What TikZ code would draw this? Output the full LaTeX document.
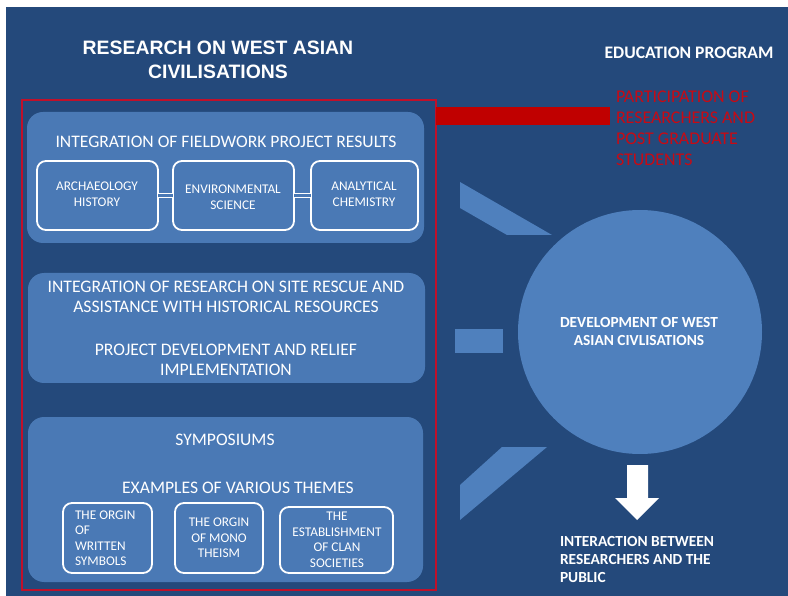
\documentclass[tikz,border=0pt]{standalone}
\usepackage{fontspec}
\setmainfont{Carlito}
\newfontfamily\titlefont{Liberation Sans}
\definecolor{bgblue}{HTML}{24497B}
\definecolor{boxblue}{HTML}{4A79B5}
\definecolor{circblue}{HTML}{4F80BD}
\definecolor{redline}{HTML}{C0102A}
\definecolor{redtext}{HTML}{C80A14}
\definecolor{redbar}{HTML}{C00000}
\begin{document}
\begin{tikzpicture}[x=1pt,y=-1pt,
  every node/.style={inner sep=0pt, outer sep=0pt},
  bigbox/.style={fill=boxblue, rounded corners=16pt, anchor=north west},
  subbox/.style={draw=white, line width=1.8pt, rounded corners=9pt, anchor=north west},
  headtxt/.style={text=white, align=center, font=\fontsize{17.6}{20.5}\selectfont},
  smalltxt/.style={text=white, align=center, font=\fontsize{13.3}{15.5}\selectfont},
  boldtxt/.style={text=white, font=\bfseries\fontsize{15.4}{18}\selectfont},
  link/.style={draw=white, line width=1.1pt, double=boxblue, double distance=3pt},
  spoke/.style={fill=circblue}
]
\useasboundingbox (0,0) rectangle (788,596);
\fill[white] (0,0) rectangle (788,596);
\fill[bgblue] (6,7) rectangle (788,596);

% titles
\node[text=white, align=center, font=\titlefont\bfseries\fontsize{19.4}{24}\selectfont] (title) at (218,60) {RESEARCH ON WEST ASIAN\\CIVILISATIONS};
\node[text=white, font=\bfseries\fontsize{17.6}{20}\selectfont] (edu) at (689,53) {EDUCATION PROGRAM};

% red frame and bar
\node[draw=redline, line width=1.5pt, minimum width=414pt, minimum height=490pt, anchor=north west] (frame) at (22,100) {};
\fill[redbar] (436,107) rectangle (610,125);
\node[text=redtext, align=left, anchor=north west, font=\fontsize{17.9}{21}\selectfont] (part) at (616,91) {PARTICIPATION OF\\RESEARCHERS AND\\POST GRADUATE\\STUDENTS};

% box 1
\node[bigbox, minimum width=397pt, minimum height=131pt] (b1) at (27,112) {};
\node[headtxt] (b1t) at (226,142) {INTEGRATION OF FIELDWORK PROJECT RESULTS};
\node[subbox, minimum width=121pt, minimum height=69pt] (s1) at (37,161) {};
\node[subbox, minimum width=121pt, minimum height=69pt] (s2) at (173,161) {};
\node[subbox, minimum width=107pt, minimum height=69pt] (s3) at (311,161) {};
\node[smalltxt] (s1t) at (97,194) {ARCHAEOLOGY\\HISTORY};
\node[smalltxt] (s2t) at (233,197) {ENVIRONMENTAL\\SCIENCE};
\node[smalltxt] (s3t) at (364,194) {ANALYTICAL\\CHEMISTRY};
\draw[link] (s1.east) -- (s2.west);
\draw[link] (s2.east) -- (s3.west);

% box 2
\node[bigbox, minimum width=397pt, minimum height=110pt] (b2) at (28,273) {};
\node[headtxt] (b2a) at (226,297) {INTEGRATION OF RESEARCH ON SITE RESCUE AND\\ASSISTANCE WITH HISTORICAL RESOURCES};
\node[headtxt] (b2b) at (226,360) {PROJECT DEVELOPMENT AND RELIEF\\IMPLEMENTATION};

% box 3
\node[bigbox, minimum width=395pt, minimum height=165pt] (b3) at (28,417) {};
\node[headtxt] (b3a) at (225,440) {SYMPOSIUMS};
\node[headtxt] (b3b) at (238,488) {EXAMPLES OF VARIOUS THEMES};
\node[subbox, minimum width=89pt, minimum height=70pt] (t1) at (63,503) {};
\node[subbox, minimum width=88pt, minimum height=70pt] (t2) at (175,503) {};
\node[subbox, minimum width=113pt, minimum height=66pt] (t3) at (280,507) {};
\node[smalltxt, align=left, anchor=west] (t1t) at (75,538) {THE ORGIN\\OF\\WRITTEN\\SYMBOLS};
\node[smalltxt] (t2t) at (219,538) {THE ORGIN\\OF MONO\\THEISM};
\node[smalltxt] (t3t) at (337,540) {THE\\ESTABLISHMENT\\OF CLAN\\SOCIETIES};

% circle
\node[circle, fill=circblue, minimum size=244pt] (circ) at (640,332) {};
\node[boldtxt, align=center] (circt) at (639,332) {DEVELOPMENT OF WEST\\ASIAN CIVLISATIONS};

% spokes
\fill[spoke] (460,182) -- (552,235) -- (507,235) -- (460,208) -- cycle;
\fill[spoke] (455,329) rectangle (503,353);
\fill[spoke] (460,485) -- (502,447) -- (547,447) -- (460,520) -- cycle;

% arrow
\fill[white] (627,465) -- (648,465) -- (648,498) -- (659,498) -- (637,520) -- (615,498) -- (627,498) -- cycle;
\node[boldtxt, align=left, anchor=north west] (inter) at (560,536) {INTERACTION BETWEEN\\RESEARCHERS AND THE\\PUBLIC};
\end{tikzpicture}
\end{document}
